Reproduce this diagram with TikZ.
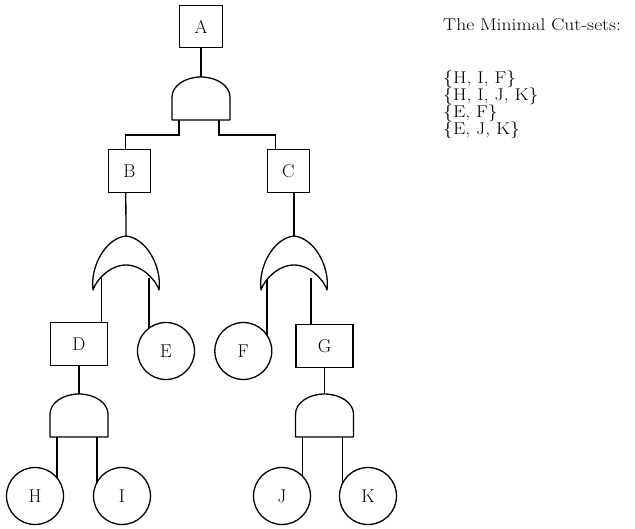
\documentclass[tikz,border=0pt]{standalone}
\usepackage{tikz}
\usetikzlibrary{backgrounds}
\tikzset{
  event/.style  ={draw, line width=1.3pt, fill=white, inner sep=0pt,
                  font=\fontsize{18.5}{18.5}\selectfont},
  topbox/.style ={event, rectangle, minimum width=43pt, minimum height=42pt},
  midbox/.style ={event, rectangle, minimum width=42pt, minimum height=43pt},
  widebox/.style={event, rectangle, minimum width=57pt, minimum height=43pt},
  basic/.style  ={event, circle, minimum size=57pt},
  gate/.style   ={draw, line width=1.3pt, fill=white, line join=round},
  link/.style   ={draw, line width=1.3pt},
  note/.style   ={inner sep=0pt, font=\fontsize{17}{17}\selectfont,
                  xscale=1.15, transform shape},
}
% AND gate: #1 name, (#2,#3) top of the dome
\newcommand{\andgate}[3]{%
  \begin{scope}[shift={(#2,#3)}]
    \draw[gate] (-29,43) -- (-29,20) .. controls (-29,9) and (-16,0) .. (0,0)
      .. controls (16,0) and (29,9) .. (29,20) -- (29,43) -- cycle;
    \coordinate (#1-in) at (0,0);
    \coordinate (#1-l) at (-22,43);
    \coordinate (#1-r) at (18,43);
  \end{scope}}
% OR gate: #1 name, (#2,#3) apex, #4/#5 x of the two legs
\newcommand{\orgate}[5]{%
  \begin{scope}[shift={(#2,#3)}]
    \draw[gate] (-33,54) .. controls (-36,30) and (-20,2) .. (0,0)
      .. controls (20,2) and (36,30) .. (33,54)
      .. controls (30,44) and (16,29) .. (0,29)
      .. controls (-16,29) and (-30,44) .. cycle;
    \coordinate (#1-in) at (0,0);
    \coordinate (#1-l) at (#4,42);
    \coordinate (#1-r) at (#5,42);
  \end{scope}}

\begin{document}
\begin{tikzpicture}[x=1pt,y=-1pt]
  \useasboundingbox (0,0) rectangle (635,528);
  % events
  \node[topbox]  (A) at (201,26.5) {A};
  \node[midbox]  (B) at (129.3,171) {B};
  \node[midbox]  (C) at (288.3,171) {C};
  \node[widebox] (D) at (79,344)    {D};
  \node[widebox] (G) at (324.5,346) {G};
  \foreach \n/\x/\y in {E/166/351, F/243.3/351, H/35/496, I/122/496,
                        J/282/496, K/368/496}
    \node[basic] (\n) at (\x,\y) {\n};
  % gates
  \foreach \n/\x/\y in {gA/201/77, gD/79/394, gG/324.5/394}
    {\andgate{\n}{\x}{\y}}
  \orgate{oB}{126}{236}{-24.5}{23}
  \orgate{oC}{294}{236}{-27}{17}
  % connectors
  \begin{scope}[on background layer]
    \draw[link] (A.south) -- (gA-in);
    \draw[link] (gA-l) -- ++(0,15) -| ([xshift=-3.5pt]B.north);
    \draw[link] (gA-r) -- ++(0,15) -| ([xshift=-13pt]C.north);
    \draw[link] ([xshift=-3.5pt]B.south) -- (oB-in);
    \draw[link] ([xshift=5.7pt]C.south) -- (oC-in);
    \draw[link] (oB-l) -- (oB-l |- D.north);
    \draw[link] (oB-r) -- (oB-r |- E.center);
    \draw[link] (oC-l) -- (oC-l |- F.center);
    \draw[link] (oC-r) -- (oC-r |- G.north);
    \draw[link] (D.south) -- (gD-in);
    \draw[link] (G.south) -- (gG-in);
    \foreach \g/\a/\b in {gD/H/I, gG/J/K}{
      \draw[link] (\g-l) -- (\g-l |- \a.center);
      \draw[link] (\g-r) -- (\g-r |- \b.center);}
  \end{scope}
  % cut-set list
  \node[note, anchor=base west] (title) at (443,30) {The Minimal Cut-sets:};
  \node[note, anchor=north west, align=left] (cuts) at (443,71)
    {\{H, I, F\}\\ \{H, I, J, K\}\\ \{E, F\}\\ \{E, J, K\}};
\end{tikzpicture}
\end{document}
